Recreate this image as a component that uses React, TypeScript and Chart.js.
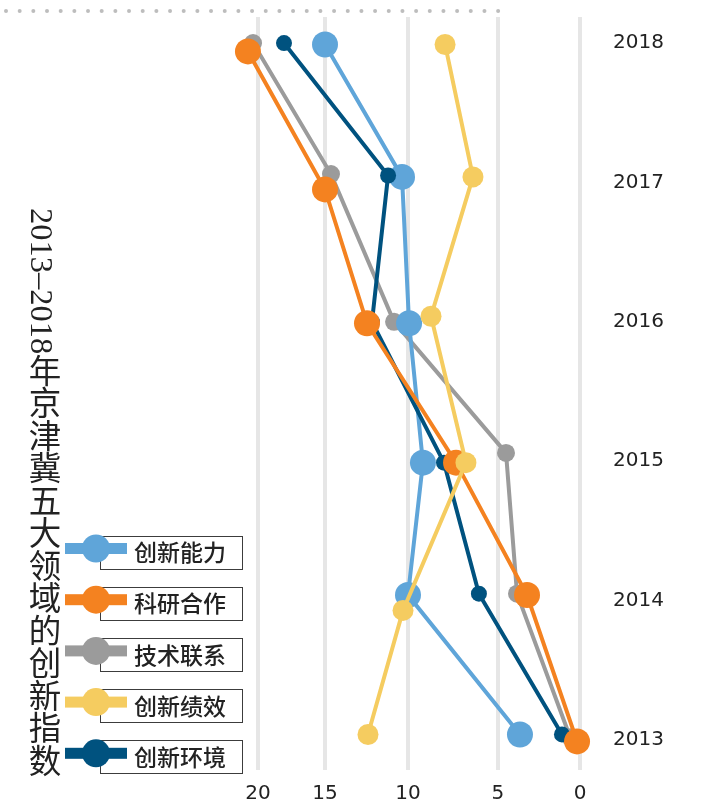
import { useEffect, useRef } from 'react';
import { Chart, LinearScale, registerables } from 'chart.js';

// ---------------- data ----------------
const YEARS = [2013, 2014, 2015, 2016, 2017, 2018];
const X_TICKS = [0, 5, 10, 15, 20];
const SERIES_NAMES = ['创新能力', '科研合作', '技术联系', '创新绩效', '创新环境'];

// index values (x) and vertical positions on the year axis (y), 2013 -> 2018
const capabilityX = [3.66, 10.0, 9.17, 9.94, 10.36, 15.0];
const capabilityY = [2013.04, 2014.04, 2014.99, 2015.99, 2017.04, 2017.99];

const cooperationX = [0.18, 3.23, 7.33, 12.47, 15.0, 20.75];
const cooperationY = [2012.99, 2014.04, 2014.99, 2015.99, 2016.95, 2017.94];

const techLinkX = [0.6, 3.84, 4.51, 10.84, 14.64, 20.37];
const techLinkY = [2013.02, 2014.05, 2015.06, 2016.0, 2017.06, 2018.0];

const performanceX = [12.41, 10.3, 6.78, 8.72, 6.39, 7.94];
const performanceY = [2013.04, 2013.93, 2014.99, 2016.04, 2017.04, 2017.99];

const environmentX = [1.1, 6.06, 8.0, 12.17, 11.2, 18.06];
const environmentY = [2013.04, 2014.05, 2014.99, 2016.0, 2017.05, 2018.0];

const TITLE = '2013–2018年京津冀五大领域的创新指数';

// ---------------- styles ----------------
const COLORS = ['#5fa5d9', '#f48220', '#9b9b9b', '#f5cc60', '#00527f'];
const RADII = [13, 13, 9, 10.5, 8];
const ORDERS = [3, 1, 4, 0, 2]; // lower order drawn on top

// relative placement of the x gridlines (the source axis is not evenly spaced)
const X_GRID_FRACTIONS = [0, 0.2547, 0.5342, 0.7919, 1];

function valueToFraction(v: number): number {
  const k = X_TICKS;
  const f = X_GRID_FRACTIONS;
  let i = 0;
  if (v <= k[0]) i = 0;
  else if (v >= k[k.length - 1]) i = k.length - 2;
  else {
    while (i < k.length - 2 && v > k[i + 1]) i++;
  }
  const t = (v - k[i]) / (k[i + 1] - k[i]);
  return f[i] + t * (f[i + 1] - f[i]);
}

function fractionToValue(d: number): number {
  const k = X_TICKS;
  const f = X_GRID_FRACTIONS;
  let i = 0;
  if (d <= f[0]) i = 0;
  else if (d >= f[f.length - 1]) i = f.length - 2;
  else {
    while (i < f.length - 2 && d > f[i + 1]) i++;
  }
  const t = (d - f[i]) / (f[i + 1] - f[i]);
  return k[i] + t * (k[i + 1] - k[i]);
}

class PiecewiseLinearScale extends LinearScale {
  static id = 'piecewiseLinear';
  static defaults = LinearScale.defaults;
  getPixelForValue(value: any) {
    if (value === null || value === undefined || isNaN(value)) return NaN;
    return this.getPixelForDecimal(valueToFraction(+value));
  }
  getValueForPixel(pixel: number) {
    return fractionToValue(this.getDecimalForPixel(pixel));
  }
}

Chart.register(...registerables, PiecewiseLinearScale as any);

const topDotsPlugin = {
  id: 'topDots',
  beforeDraw(chart: any) {
    const ctx = chart.ctx;
    ctx.save();
    ctx.fillStyle = '#bdbdbd';
    for (let k = 0; k < 37; k++) {
      ctx.beginPath();
      ctx.arc(6 + k * 13.67, 11, 2, 0, Math.PI * 2);
      ctx.fill();
    }
    ctx.restore();
  },
};

const legendPlugin = {
  id: 'boxLegend',
  afterDraw(chart: any) {
    const ctx = chart.ctx;
    ctx.save();
    chart.data.datasets.forEach((ds: any, i: number) => {
      const cy = 548.5 + i * 51.2;
      ctx.strokeStyle = '#3c3c3c';
      ctx.lineWidth = 1;
      ctx.strokeRect(100.5, Math.round(cy - 13) + 0.5, 142, 33);
      ctx.fillStyle = ds.borderColor;
      ctx.fillRect(65, cy - 5.5, 62, 11);
      ctx.beginPath();
      ctx.arc(96, cy, 14, 0, Math.PI * 2);
      ctx.fill();
      ctx.fillStyle = '#222';
      ctx.font = '500 23px "Noto Sans CJK SC"';
      ctx.textBaseline = 'middle';
      ctx.textAlign = 'left';
      ctx.fillText(ds.label, 134, cy + 4);
    });
    ctx.restore();
  },
};

export default function App() {
  const canvasRef = useRef<HTMLCanvasElement | null>(null);

  useEffect(() => {
    if (!canvasRef.current) return;
    const xs = [capabilityX, cooperationX, techLinkX, performanceX, environmentX];
    const ys = [capabilityY, cooperationY, techLinkY, performanceY, environmentY];
    const datasets = SERIES_NAMES.map((name, i) => ({
      label: name,
      data: xs[i].map((x, j) => ({ x, y: ys[i][j] })),
      borderColor: COLORS[i],
      backgroundColor: COLORS[i],
      borderWidth: 4,
      pointRadius: RADII[i],
      pointHoverRadius: RADII[i],
      pointBorderWidth: 0,
      tension: 0,
      clip: false as any,
      order: ORDERS[i],
    }));

    const chart = new Chart(canvasRef.current, {
      type: 'line',
      data: { datasets },
      options: {
        animation: false,
        responsive: false,
        events: [],
        layout: { padding: { left: 258, top: 17, right: 0, bottom: 0 } },
        plugins: {
          legend: { display: false },
          tooltip: { enabled: false },
        },
        scales: {
          x: {
            type: 'piecewiseLinear' as any,
            reverse: true,
            min: 0,
            max: 20,
            afterFit: (scale: any) => {
              scale.height = 37;
              scale.paddingLeft = 0;
              scale.paddingRight = 0;
              scale.paddingTop = 0;
              scale.paddingBottom = 0;
            },
            afterBuildTicks: (scale: any) => {
              scale.ticks = X_TICKS.map((v) => ({ value: v }));
            },
            grid: { color: '#e6e6e6', lineWidth: 4, drawTicks: false },
            border: { display: false },
            ticks: {
              padding: 12,
              color: '#222',
              font: { family: 'DejaVu Sans', size: 20 },
              maxRotation: 0,
              autoSkip: false,
            },
          } as any,
          y: {
            type: 'linear',
            position: 'right',
            min: 2012.785,
            max: 2018.187,
            afterFit: (scale: any) => {
              scale.width = 128;
              scale.paddingLeft = 0;
              scale.paddingRight = 0;
              scale.paddingTop = 0;
              scale.paddingBottom = 0;
            },
            afterBuildTicks: (scale: any) => {
              scale.ticks = YEARS.map((v) => ({ value: v }));
            },
            grid: { display: false, drawTicks: false },
            border: { display: false },
            ticks: {
              padding: 33,
              color: '#222',
              font: { family: 'DejaVu Sans', size: 20 },
              callback: (v: any) => String(v),
              autoSkip: false,
            },
          },
        },
      },
      plugins: [topDotsPlugin, legendPlugin],
    });
    return () => chart.destroy();
  }, []);

  return (
    <div style={{ position: 'absolute', left: 0, top: 0, width: 708, height: 807, background: '#fff' }}>
      <canvas ref={canvasRef} width={708} height={807} style={{ position: 'absolute', left: 0, top: 0 }} />
      <div
        style={{
          position: 'absolute',
          left: 25,
          top: 208,
          writingMode: 'vertical-rl',
          fontFamily: '"Liberation Serif", "Noto Sans CJK SC", serif',
          fontSize: 32.5,
          lineHeight: 1,
          color: '#222',
          whiteSpace: 'nowrap',
        }}
      >
        {TITLE}
      </div>
    </div>
  );
}
